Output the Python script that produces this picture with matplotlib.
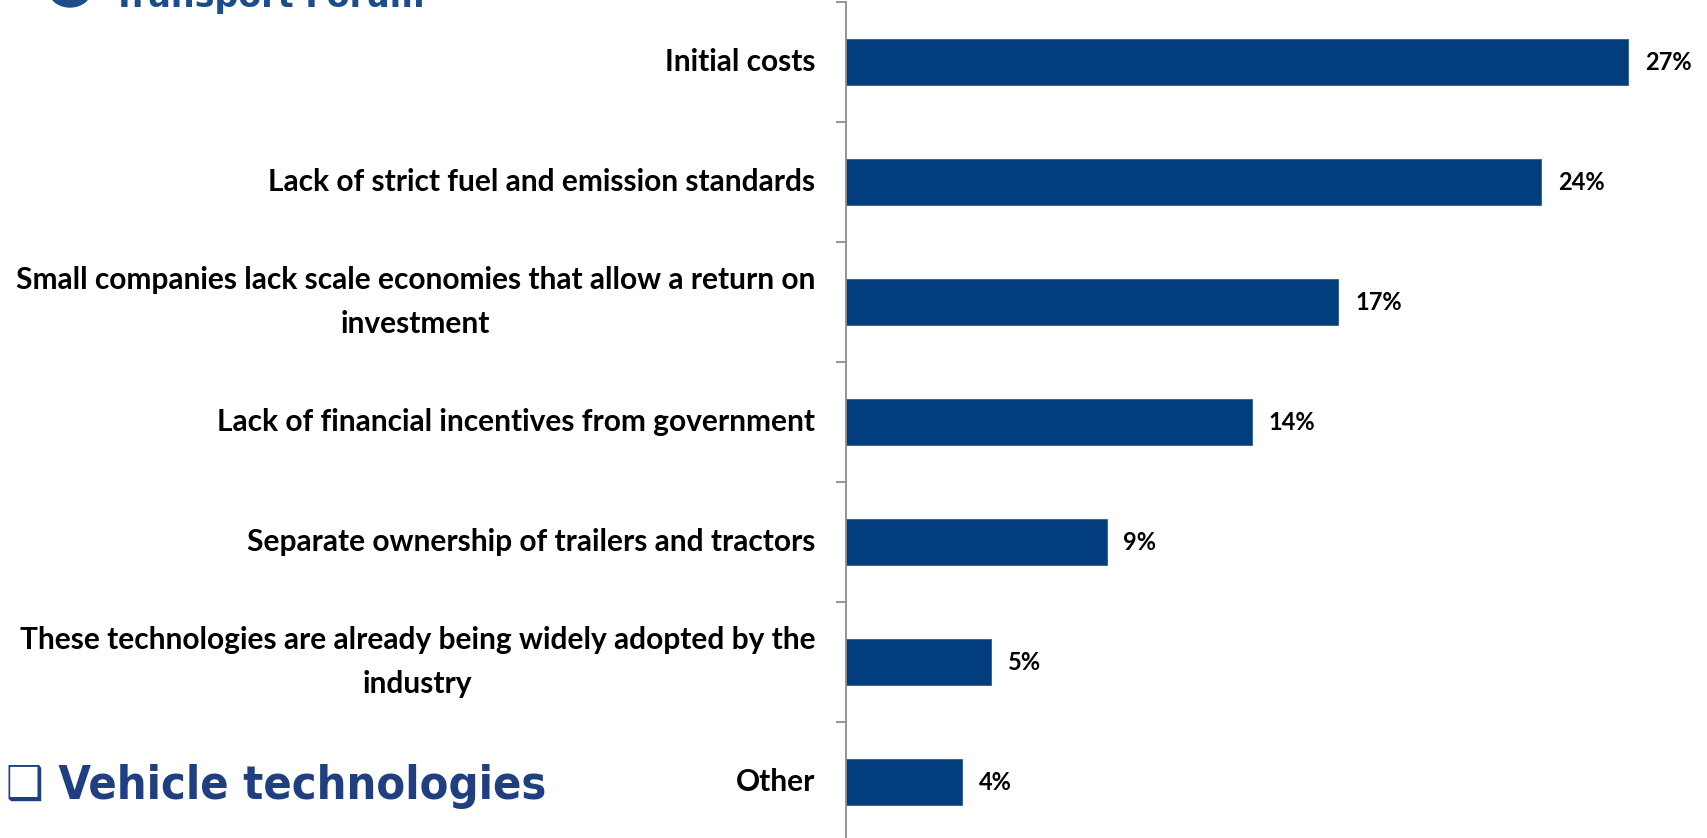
import matplotlib.pyplot as plt
from matplotlib.patches import Ellipse

categories = [
    "Initial costs",
    "Lack of strict fuel and emission standards",
    "Small companies lack scale economies that allow a return on\ninvestment",
    "Lack of financial incentives from government",
    "Separate ownership of trailers and tractors",
    "These technologies are already being widely adopted by the\nindustry",
    "Other",
]
shares = [27, 24, 17, 14, 9, 5, 4]

BAR_COLOR = "#023e7d"
TITLE_COLOR = "#1f3f80"

W, H = 1708, 838
fig = plt.figure(figsize=(W / 100, H / 100), dpi=100)

# plot area: axis line at x=846px, runs from the top edge past the bottom
ax = fig.add_axes([846 / W, -4 / H, (W - 846) / W, 840 / H])
pos = list(range(len(categories)))
ax.barh(pos, shares, height=0.39, color=BAR_COLOR, edgecolor="#2b5d99", linewidth=0.6)
ax.set_ylim(len(categories) - 0.5, -0.5)
ax.set_xlim(0, 29.76)

ax.set_yticks(pos)
ax.set_yticklabels(categories, fontsize=21.5, fontweight="bold", family="Lato",
                   linespacing=1.72, multialignment="center", va="center")
ax.tick_params(axis="y", which="major", length=0, pad=22)
ax.set_yticks([p - 0.5 for p in pos] + [len(pos) - 0.5], minor=True)
ax.tick_params(axis="y", which="minor", length=7.5, width=1.3, color="#8c8c8c")
ax.set_xticks([])

for side in ["top", "right", "bottom"]:
    ax.spines[side].set_visible(False)
ax.spines["left"].set_color("#8c8c8c")
ax.spines["left"].set_linewidth(1.3)

for p, v in zip(pos, shares):
    ax.annotate(f"{v}%", (v, p), xytext=(12, 0), textcoords="offset points",
                va="center", ha="left", fontsize=17, fontweight="bold", family="Lato")

# section heading, bottom left
fig.text(6 / W, 1 - 786 / H, "\u2751 Vehicle technologies", color=TITLE_COLOR,
         fontsize=33.7, fontweight="bold", family="DejaVu Sans", fontstretch="condensed",
         va="center", ha="left")

# logo strip cut off at the top edge
fig.patches.append(Ellipse((70 / W, 1 + 10 / H), 42 / W, 34 / H, transform=fig.transFigure,
                           color="#1b4d8c"))
fig.text(113 / W, 1 + 2 / H, "Transport Forum", color="#1b4d8c", fontsize=24,
         fontweight="bold", family="DejaVu Sans", va="center", ha="left")

fig.savefig("out.png", dpi=100)
